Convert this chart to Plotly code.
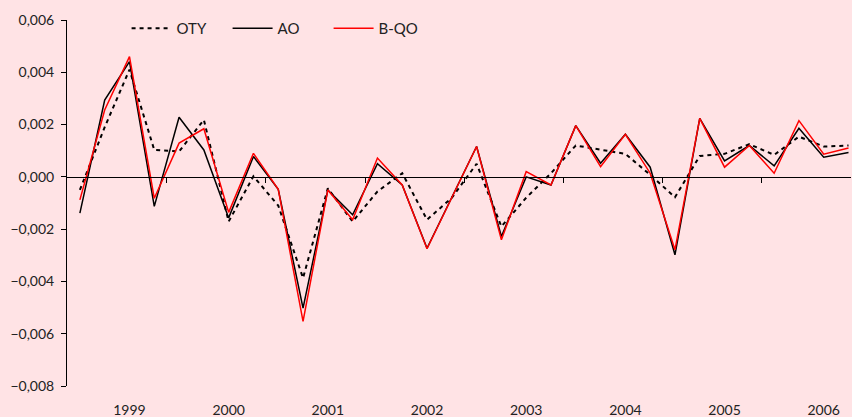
import plotly.graph_objects as go

years = [1999, 2000, 2001, 2002, 2003, 2004, 2005, 2006]
quarters = [f"{y}Q{q}" for y in years for q in range(1, 5)]

oty = [-0.0005, 0.0019, 0.0041, 0.00103, 0.00097, 0.00218, -0.00171, 0.00002,
       -0.0011, -0.00387, -0.00044, -0.00171, -0.00056, 0.00014, -0.00164, -0.0008,
       0.0005, -0.0019, -0.0008, 0.00014, 0.0012, 0.00103, 0.00088, 0.00008,
       -0.00078, 0.0008, 0.00088, 0.00125, 0.00084, 0.00154, 0.00116, 0.0012]
ao = [-0.00139, 0.00294, 0.00441, -0.00113, 0.00228, 0.00103, -0.00157, 0.00078,
      -0.00048, -0.00502, -0.0005, -0.00145, 0.0005, -0.00031, -0.00273, -0.0008,
      0.00116, -0.00228, 0.0, -0.00031, 0.00196, 0.00052, 0.00163, 0.00037,
      -0.00298, 0.00224, 0.00061, 0.0012, 0.00042, 0.00186, 0.00075, 0.00093]
bqo = [-0.00088, 0.00256, 0.0046, -0.00082, 0.00129, 0.00184, -0.00136, 0.0009,
       -0.00048, -0.00553, -0.0005, -0.00164, 0.00072, -0.00031, -0.00275, -0.0008,
       0.00116, -0.00241, 0.0002, -0.00031, 0.00196, 0.00039, 0.00163, 0.00014,
       -0.00279, 0.00224, 0.00037, 0.0012, 0.00014, 0.00215, 0.00087, 0.0011]

y_ticks = [-0.008, -0.006, -0.004, -0.002, 0.0, 0.002, 0.004, 0.006]

x = list(range(len(quarters)))
label_pos = [i for i, q in enumerate(quarters) if q.endswith("Q3")]
year_bounds = [i + 0.5 for i, q in enumerate(quarters) if q.endswith("Q4")]

BG = "#FFE3E5"
FONT = "Lato, 'DejaVu Sans', sans-serif"
xr = [-0.52, 31.1]
yr = [-0.008, 0.006]

fig = go.Figure()
fig.add_trace(go.Scatter(x=x, y=oty, mode="lines", name="OTY",
                         line=dict(color="black", width=2, dash="4px,4px")))
fig.add_trace(go.Scatter(x=x, y=ao, mode="lines", name="AO",
                         line=dict(color="black", width=1.5)))
fig.add_trace(go.Scatter(x=x, y=bqo, mode="lines", name="B-QO",
                         line=dict(color="#FF0000", width=1.5)))
fig.add_trace(go.Scatter(x=[xr[0]], y=[0], xaxis="x2", mode="lines",
                         showlegend=False, hoverinfo="skip",
                         line=dict(color="rgba(0,0,0,0)")))

zero_pos = (0 - yr[0]) / (yr[1] - yr[0])

fig.update_layout(
    width=852, height=417,
    paper_bgcolor=BG, plot_bgcolor=BG,
    margin=dict(l=67, r=1, t=20, b=31, autoexpand=False),
    separators=", ",
    font=dict(family=FONT, size=14, color="#222222"),
    showlegend=True,
    legend=dict(orientation="h", x=0.076, y=1.022, xanchor="left", yanchor="top",
                bgcolor="rgba(0,0,0,0)", font=dict(size=15), itemwidth=40,
                entrywidth=46, tracegroupgap=0),
    xaxis=dict(range=xr, tickmode="array", tickvals=label_pos,
               ticktext=[str(y) for y in years], ticks="", showgrid=False,
               zeroline=False, showline=False, ticklabelstandoff=14,
               automargin=False, tickfont=dict(size=14)),
    xaxis2=dict(range=xr, overlaying="x", anchor="free", position=zero_pos,
                side="bottom", tickmode="array", tickvals=year_bounds,
                ticks="outside", ticklen=5, tickcolor="black", tickwidth=1,
                showticklabels=False, showgrid=False, zeroline=False,
                showline=True, linecolor="black", linewidth=1, automargin=False),
    yaxis=dict(range=yr, tickmode="array", tickvals=y_ticks, tickformat=".3f",
               ticks="outside", ticklen=5, tickcolor="black", showgrid=False,
               zeroline=False, showline=True, linecolor="black", linewidth=1,
               ticklabelstandoff=4, automargin=False, tickfont=dict(size=14)),
)

fig.write_html(
    "out.html",
    config={"displayModeBar": False},
    post_script="document.body.style.margin='0';document.body.style.background='%s';" % BG,
)
